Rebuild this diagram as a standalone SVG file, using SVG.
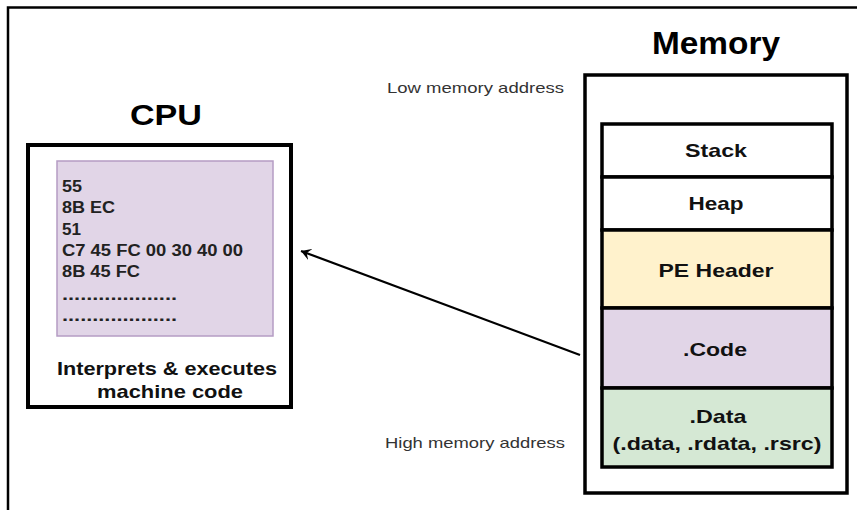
<svg xmlns="http://www.w3.org/2000/svg" width="857" height="510" viewBox="0 0 857 510">
<style>
.t{font-family:"Liberation Sans",Arial,sans-serif;fill:#000}
.title{font-size:29px;font-weight:bold;text-anchor:middle}
.seg{stroke:#000;stroke-width:3.5}
.lbl{font-size:19px;font-weight:bold;text-anchor:middle;fill:#111}
.addr{font-size:15px;fill:#333}
.code{font-size:16px;font-weight:bold;fill:#222}
</style>
<defs>
<marker id="ah" markerWidth="12" markerHeight="12" refX="10" refY="6" orient="auto" markerUnits="userSpaceOnUse">
<path d="M0,0 L10,6 L0,12 L4,6 Z" fill="#000"/>
</marker>
</defs>
<rect x="0" y="0" width="857" height="510" fill="#fff"/>
<path d="M8,520 V7.5 H870" fill="none" stroke="#000" stroke-width="2.5"/>
<g id="cpu">
<text class="t title" x="166" y="125" textLength="72" lengthAdjust="spacingAndGlyphs">CPU</text>
<rect x="28" y="145" width="263" height="262" fill="#fff" stroke="#000" stroke-width="4"/>
<rect x="57" y="161" width="216" height="175" fill="#e1d5e7" stroke="#b59cc4" stroke-width="1.5"/>
<text class="t code" x="62" y="192" textLength="20" lengthAdjust="spacingAndGlyphs">55</text>
<text class="t code" x="62" y="213" textLength="53" lengthAdjust="spacingAndGlyphs">8B EC</text>
<text class="t code" x="62" y="235" textLength="19" lengthAdjust="spacingAndGlyphs">51</text>
<text class="t code" x="62" y="256" textLength="181" lengthAdjust="spacingAndGlyphs">C7 45 FC 00 30 40 00</text>
<text class="t code" x="62" y="277" textLength="78" lengthAdjust="spacingAndGlyphs">8B 45 FC</text>
<text class="t code" x="62" y="300" textLength="115" lengthAdjust="spacingAndGlyphs">...................</text>
<text class="t code" x="62" y="321" textLength="115" lengthAdjust="spacingAndGlyphs">...................</text>
<text class="t lbl" x="167" y="375" textLength="220" lengthAdjust="spacingAndGlyphs">Interprets &amp; executes</text>
<text class="t lbl" x="170" y="398" textLength="146" lengthAdjust="spacingAndGlyphs">machine code</text>
</g>
<g id="memory">
<text class="t title" x="716" y="54" style="font-size:32px" textLength="128" lengthAdjust="spacingAndGlyphs">Memory</text>
<rect x="585" y="75" width="262" height="418" fill="#fff" stroke="#000" stroke-width="3.5"/>
<text class="t addr" x="387" y="93" textLength="177" lengthAdjust="spacingAndGlyphs">Low memory address</text>
<text class="t addr" x="385" y="448" textLength="180" lengthAdjust="spacingAndGlyphs">High memory address</text>
</g>
<g id="stack">
<rect class="seg" x="602" y="124" width="230" height="53" fill="#fff"/>
<text class="t lbl" x="716" y="157" textLength="62" lengthAdjust="spacingAndGlyphs">Stack</text>
</g>
<g id="heap">
<rect class="seg" x="602" y="177" width="230" height="53" fill="#fff"/>
<text class="t lbl" x="716" y="210" textLength="55" lengthAdjust="spacingAndGlyphs">Heap</text>
</g>
<g id="peheader">
<rect class="seg" x="602" y="230" width="230" height="78" fill="#fff2cc"/>
<text class="t lbl" x="716" y="277" textLength="115" lengthAdjust="spacingAndGlyphs">PE Header</text>
</g>
<g id="code">
<rect class="seg" x="602" y="308" width="230" height="80" fill="#e1d5e7"/>
<text class="t lbl" x="715" y="356" textLength="64" lengthAdjust="spacingAndGlyphs">.Code</text>
</g>
<g id="data">
<rect class="seg" x="602" y="388" width="230" height="79" fill="#d5e8d4"/>
<text class="t lbl" x="718" y="423" textLength="57" lengthAdjust="spacingAndGlyphs">.Data</text>
<text class="t lbl" x="717" y="450" textLength="209" lengthAdjust="spacingAndGlyphs">(.data, .rdata, .rsrc)</text>
</g>
<g id="connectors">
<line x1="580" y1="355" x2="301" y2="251" stroke="#000" stroke-width="2.2" marker-end="url(#ah)"/>
</g>
</svg>
